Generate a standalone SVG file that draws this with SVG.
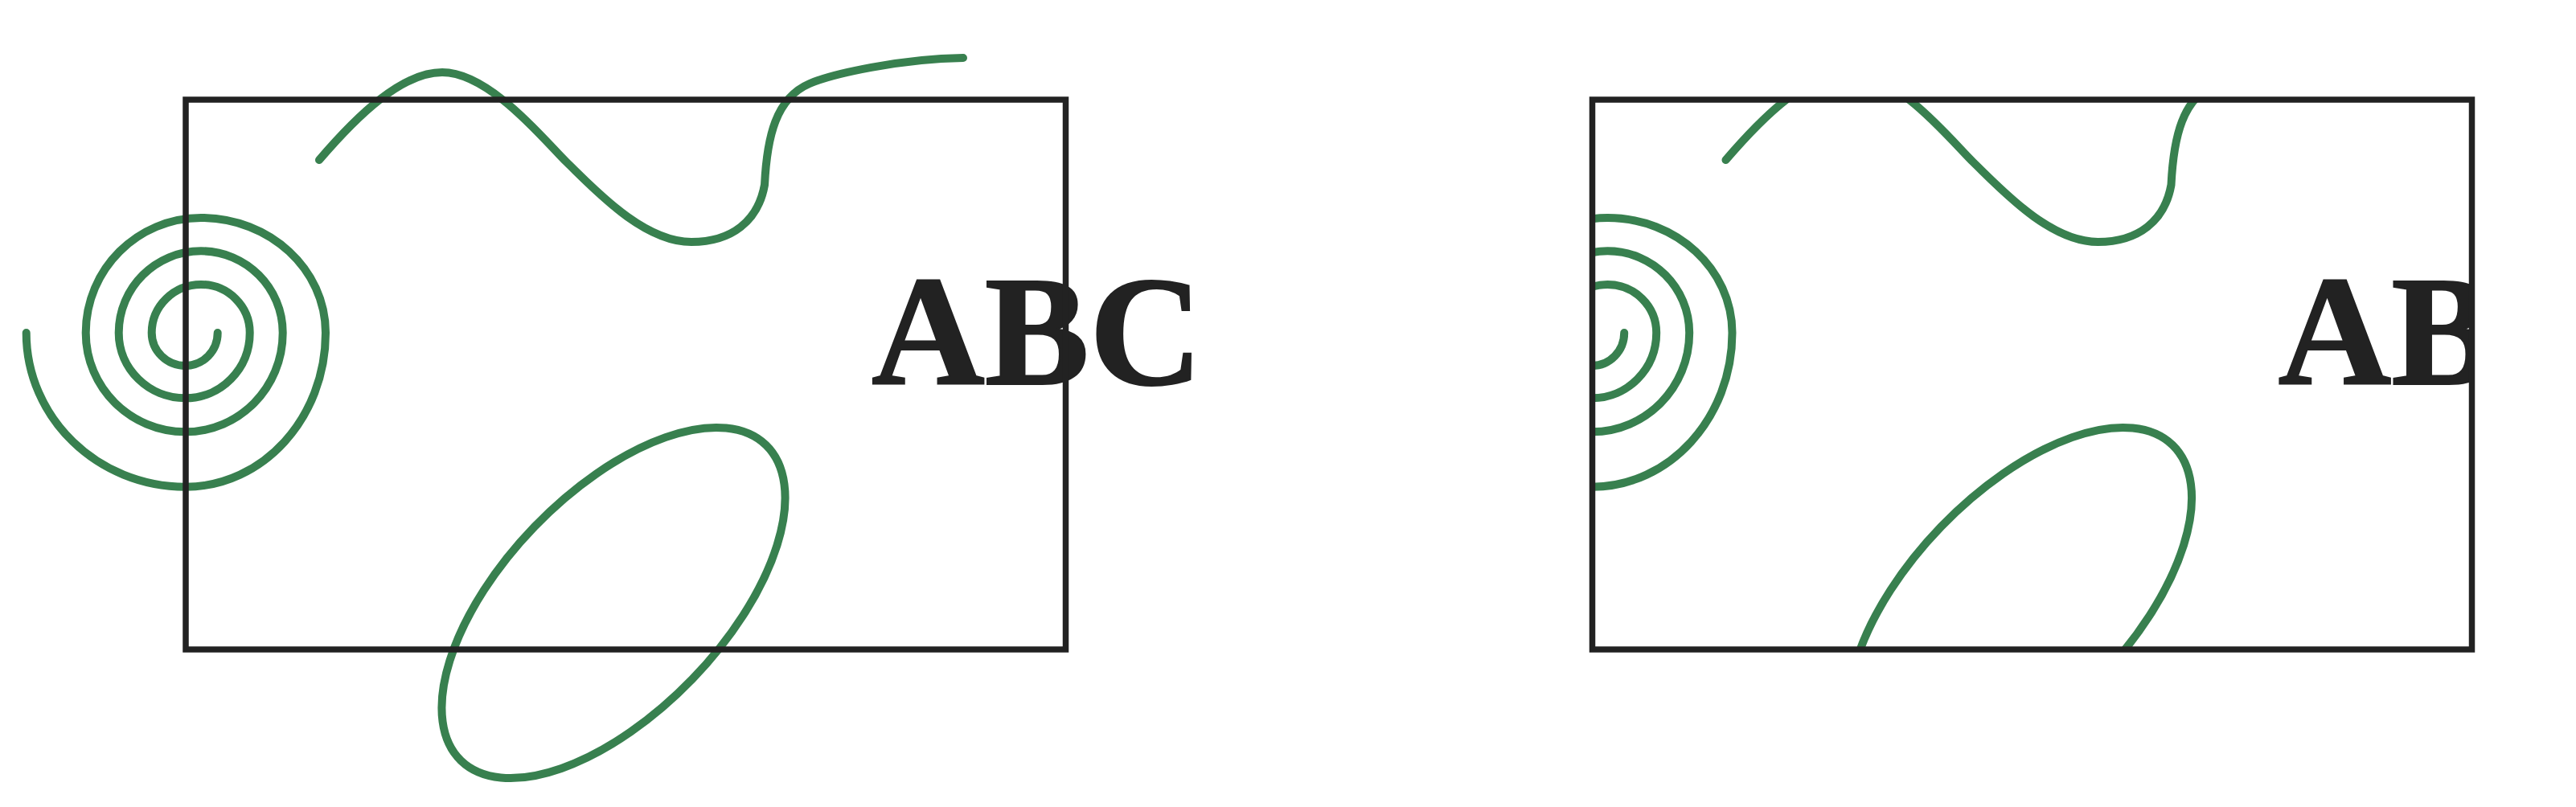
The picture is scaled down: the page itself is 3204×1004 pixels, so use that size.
<svg xmlns="http://www.w3.org/2000/svg" width="3204" height="1004" viewBox="0 0 3204 1004">
  <style>
    .g { fill: none; stroke: #38804f; stroke-width: 10; stroke-linecap: round; stroke-linejoin: round; }
    .frame { fill: none; stroke: #222222; stroke-width: 7.5; }
    .lbl { font-family: "Liberation Serif", "Times New Roman", serif; font-weight: bold; font-size: 195px; fill: #222222; stroke: #222222; stroke-width: 2; }
  </style>
  <defs>
    <clipPath id="clip">
      <rect x="231" y="124" width="1094" height="684"/>
    </clipPath>
  </defs>
  <g id="unclipped">
    <path class="g" d="M270.7,414 C270.7,436.6 252.8,455 230.7,455 C207.5,455 188.7,436.6 188.7,414 C188.7,380.9 216.2,354 250,354 C283.5,354 310.7,380.9 310.7,414 C310.7,458.9 274.9,495.3 230.7,495.3 C184.9,495.3 147.7,458.9 147.7,414 C147.7,357.9 193.5,312.3 250,312.3 C306.1,312.3 351.7,357.9 351.7,414 C351.7,482.1 297.5,537.3 230.7,537.3 C162.2,537.3 106.7,482.1 106.7,414 C106.7,335.1 170.9,271 250,271 C335.6,271 405,335.1 405,414 C405,519.8 326.9,605.7 230.7,605.7 C121.4,605.7 32.7,519.8 32.7,414"/>
    <path class="g" d="M397,199 C445,143 500,90 550,90 C610,90 680,178 705,202 C740,236 800,301 860,301 C910,301 943,275 951,230 C954,170 965,122 1007,104 C1035,92 1120,73 1198,72"/>
    <ellipse class="g" cx="763" cy="750" rx="273" ry="136.5" transform="rotate(-46 763 750)"/>
    <text class="lbl" x="1084" y="478">ABC</text>
    <rect class="frame" x="231" y="124" width="1094.5" height="684"/>
  </g>
  <g id="clipped" transform="translate(1749.5,0)">
    <g clip-path="url(#clip)">
      <path class="g" d="M270.7,414 C270.7,436.6 252.8,455 230.7,455 C207.5,455 188.7,436.6 188.7,414 C188.7,380.9 216.2,354 250,354 C283.5,354 310.7,380.9 310.7,414 C310.7,458.9 274.9,495.3 230.7,495.3 C184.9,495.3 147.7,458.9 147.7,414 C147.7,357.9 193.5,312.3 250,312.3 C306.1,312.3 351.7,357.9 351.7,414 C351.7,482.1 297.5,537.3 230.7,537.3 C162.2,537.3 106.7,482.1 106.7,414 C106.7,335.1 170.9,271 250,271 C335.6,271 405,335.1 405,414 C405,519.8 326.9,605.7 230.7,605.7 C121.4,605.7 32.7,519.8 32.7,414"/>
      <path class="g" d="M397,199 C445,143 500,90 550,90 C610,90 680,178 705,202 C740,236 800,301 860,301 C910,301 943,275 951,230 C954,170 965,122 1007,104 C1035,92 1120,73 1198,72"/>
      <ellipse class="g" cx="763" cy="750" rx="273" ry="136.5" transform="rotate(-46 763 750)"/>
      <text class="lbl" x="1084" y="478">ABC</text>
    </g>
    <rect class="frame" x="231" y="124" width="1094" height="684"/>
  </g>
</svg>
